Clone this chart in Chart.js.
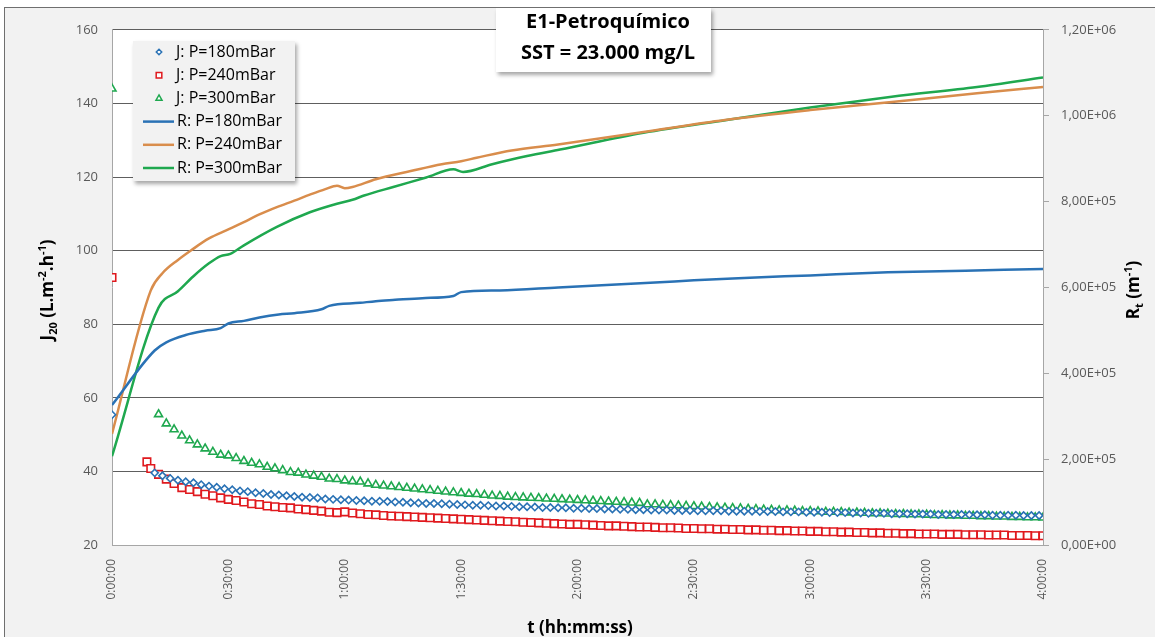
<!DOCTYPE html>
<html>
<head>
<meta charset="utf-8">
<script src="https://cdn.jsdelivr.net/npm/chart.js@4.4.1/dist/chart.umd.min.js"></script>
<style>
  body { margin: 0; background: #ffffff; overflow: hidden; }
  #wrap { position: absolute; left: 4px; top: 7px; width: 1151px; height: 630px;
          border-left: 1px solid #6f6f6f; border-top: 1px solid #6f6f6f; background: #f2f2f2; }
  canvas { display: block; }
</style>
</head>
<body>
<div id="wrap"><canvas id="myChart" width="1150" height="629"></canvas></div>
<script>
'use strict';

// time in minutes
const timesJ180 = [0, 11, 13, 15, 17, 19, 21, 23, 25, 27, 29, 31, 33, 35, 37, 39, 41, 43, 45, 47, 49, 51, 53, 55, 57, 59,
  61, 63, 65, 67, 69, 71, 73, 75, 77, 79, 81, 83, 85, 87, 89, 91, 93, 95, 97, 99, 101, 103, 105, 107, 109, 111, 113, 115, 117, 119,
  121, 123, 125, 127, 129, 131, 133, 135, 137, 139, 141, 143, 145, 147, 149, 151, 153, 155, 157, 159, 161, 163, 165, 167, 169, 171, 173, 175, 177, 179,
  181, 183, 185, 187, 189, 191, 193, 195, 197, 199, 201, 203, 205, 207, 209, 211, 213, 215, 217, 219, 221, 223, 225, 227, 229, 231, 233, 235, 237, 239];
const j180 = [55.4, 39.6, 38.8, 38.1, 37.6, 37.2, 36.9, 36.4, 36.0, 35.7, 35.3, 35.0, 34.7, 34.5, 34.2, 34.0, 33.7, 33.6, 33.4, 33.2, 33.0, 32.9, 32.8, 32.5, 32.4, 32.3,
  32.2, 32.1, 32.0, 31.9, 31.9, 31.8, 31.7, 31.6, 31.5, 31.4, 31.3, 31.3, 31.2, 31.1, 31.0, 30.9, 30.8, 30.8, 30.7, 30.6, 30.6, 30.5, 30.4, 30.4, 30.3, 30.2, 30.2, 30.1, 30.1, 30.0,
  30.0, 29.9, 29.9, 29.8, 29.8, 29.7, 29.7, 29.6, 29.6, 29.5, 29.5, 29.5, 29.4, 29.4, 29.4, 29.3, 29.3, 29.3, 29.3, 29.2, 29.2, 29.2, 29.2, 29.1, 29.1, 29.1, 29.0, 29.0, 29.0, 28.9,
  28.9, 28.9, 28.8, 28.8, 28.8, 28.7, 28.7, 28.6, 28.6, 28.6, 28.5, 28.5, 28.5, 28.4, 28.4, 28.4, 28.3, 28.3, 28.3, 28.3, 28.2, 28.2, 28.2, 28.1, 28.1, 28.1, 28.1, 28.0, 28.0, 28.0];

const timesJ240 = [0, 9, 10, 12, 14, 16, 18, 20, 22, 24, 26, 28, 30, 32, 34, 36, 38, 40, 42, 44, 46, 48, 50, 52, 54, 56, 58, 60,
  62, 64, 66, 68, 70, 72, 74, 76, 78, 80, 82, 84, 86, 88, 90, 92, 94, 96, 98, 100, 102, 104, 106, 108, 110, 112, 114, 116, 118, 120,
  122, 124, 126, 128, 130, 132, 134, 136, 138, 140, 142, 144, 146, 148, 150, 152, 154, 156, 158, 160, 162, 164, 166, 168, 170, 172, 174, 176, 178, 180,
  182, 184, 186, 188, 190, 192, 194, 196, 198, 200, 202, 204, 206, 208, 210, 212, 214, 216, 218, 220, 222, 224, 226, 228, 230, 232, 234, 236, 238, 240];
const j240 = [92.7, 42.6, 40.8, 39.2, 37.9, 36.7, 35.6, 35.1, 34.5, 33.8, 33.4, 32.8, 32.4, 32.1, 31.7, 31.2, 31.0, 30.6, 30.4, 30.2, 30.1, 29.8, 29.6, 29.4, 29.2, 28.9, 28.8, 29.0,
  28.7, 28.5, 28.3, 28.2, 28.0, 27.9, 27.8, 27.7, 27.6, 27.5, 27.4, 27.3, 27.2, 27.1, 27.0, 26.9, 26.8, 26.7, 26.6, 26.5, 26.4, 26.3, 26.2, 26.1, 26.0, 25.9, 25.8, 25.7, 25.6, 25.6,
  25.5, 25.4, 25.3, 25.2, 25.2, 25.1, 25.0, 24.9, 24.9, 24.8, 24.7, 24.7, 24.6, 24.5, 24.5, 24.4, 24.4, 24.3, 24.3, 24.2, 24.2, 24.1, 24.1, 24.0, 24.0, 23.9, 23.9, 23.8, 23.8, 23.7,
  23.7, 23.6, 23.6, 23.5, 23.5, 23.4, 23.4, 23.3, 23.3, 23.2, 23.2, 23.1, 23.1, 23.0, 23.0, 23.0, 22.9, 22.9, 22.9, 22.8, 22.8, 22.8, 22.7, 22.7, 22.7, 22.6, 22.6, 22.6, 22.5, 22.5];

const timesJ300 = [0, 12, 14, 16, 18, 20, 22, 24, 26, 28, 30, 32, 34, 36, 38, 40, 42, 44, 46, 48, 50, 52, 54, 56, 58, 60,
  62, 64, 66, 68, 70, 72, 74, 76, 78, 80, 82, 84, 86, 88, 90, 92, 94, 96, 98, 100, 102, 104, 106, 108, 110, 112, 114, 116, 118, 120,
  122, 124, 126, 128, 130, 132, 134, 136, 138, 140, 142, 144, 146, 148, 150, 152, 154, 156, 158, 160, 162, 164, 166, 168, 170, 172, 174, 176, 178, 180,
  182, 184, 186, 188, 190, 192, 194, 196, 198, 200, 202, 204, 206, 208, 210, 212, 214, 216, 218, 220, 222, 224, 226, 228, 230, 232, 234, 236, 238, 240];
const j300 = [144.0, 55.5, 53.0, 51.4, 49.7, 48.4, 47.3, 46.2, 45.3, 44.5, 44.3, 43.6, 42.8, 42.3, 41.9, 41.2, 40.8, 40.3, 39.8, 39.6, 39.1, 38.8, 38.5, 38.0, 37.9, 37.5,
  37.3, 37.2, 36.7, 36.3, 36.1, 35.9, 35.7, 35.5, 35.3, 35.1, 34.9, 34.7, 34.5, 34.3, 34.1, 33.9, 33.8, 33.6, 33.4, 33.3, 33.1, 33.0, 32.9, 32.8, 32.7, 32.6, 32.5, 32.4, 32.3, 32.2,
  32.1, 32.0, 31.9, 31.8, 31.7, 31.6, 31.5, 31.4, 31.0, 31.0, 30.9, 30.8, 30.7, 30.6, 30.5, 30.4, 30.3, 30.2, 30.1, 30.0, 29.9, 29.8, 29.7, 29.6, 29.5, 29.4, 29.4, 29.3, 29.2, 29.2,
  29.1, 29.0, 29.0, 28.9, 28.8, 28.8, 28.7, 28.6, 28.6, 28.5, 28.4, 28.4, 28.3, 28.3, 28.2, 28.1, 28.1, 28.0, 28.0, 27.9, 27.9, 27.8, 27.8, 27.7, 27.7, 27.6, 27.6, 27.5, 27.5, 27.4];

// resistance, m-1
const timesR180 = [0, 11, 14, 19, 24, 28, 30, 34, 38, 43, 47, 54, 56, 64, 68, 73, 80, 88, 90, 100, 115, 130, 145, 160, 180, 200, 220, 240];
const r180 = [3.26e5, 4.53e5, 4.72e5, 4.89e5, 4.99e5, 5.05e5, 5.16e5, 5.22e5, 5.30e5, 5.37e5, 5.40e5, 5.49e5, 5.57e5, 5.64e5, 5.68e5, 5.71e5,
  5.75e5, 5.80e5, 5.89e5, 5.93e5, 6.00e5, 6.07e5, 6.14e5, 6.21e5, 6.28e5, 6.35e5, 6.39e5, 6.43e5];

const timesR240 = [0, 10, 13, 17, 20.5, 25, 30, 34, 38, 42.5, 47, 51, 55, 58, 60, 62, 68, 77, 85, 90, 94, 103, 115, 137, 158, 180, 201, 223, 240];
const r240 = [2.59e5, 5.93e5, 6.33e5, 6.64e5, 6.87e5, 7.14e5, 7.35e5, 7.52e5, 7.70e5, 7.87e5, 8.02e5, 8.16e5, 8.29e5, 8.37e5, 8.31e5, 8.34e5,
  8.52e5, 8.71e5, 8.87e5, 8.94e5, 9.02e5, 9.19e5, 9.33e5, 9.62e5, 9.90e5, 1.013e6, 1.032e6, 1.052e6, 1.067e6];

const timesR300 = [0, 12, 17, 21, 25, 28, 30.5, 34, 42.5, 51, 58, 62, 65, 72.5, 81, 88, 90.5, 98, 107, 115.5, 137, 158.5, 180, 201, 223, 240];
const r300 = [2.07e5, 5.53e5, 5.91e5, 6.26e5, 6.56e5, 6.73e5, 6.78e5, 6.98e5, 7.41e5, 7.75e5, 7.95e5, 8.04e5, 8.14e5, 8.34e5, 8.56e5, 8.75e5,
  8.69e5, 8.87e5, 9.06e5, 9.21e5, 9.60e5, 9.90e5, 1.019e6, 1.044e6, 1.067e6, 1.089e6];

const seriesLabels = ['J: P=180mBar', 'J: P=240mBar', 'J: P=300mBar', 'R: P=180mBar', 'R: P=240mBar', 'R: P=300mBar'];
const boxLines = ['E1-Petroquímico', 'SST = 23.000 mg/L'];

const BLUE = '#2a72b5';
const RED = '#e0191e';
const GREEN = '#1fa84f';
const ORANGE = '#d98d4c';
const FONT = "'Open Sans', sans-serif";

function pairs(xs, ys) {
  const out = [];
  for (let i = 0; i < xs.length; i++) {
    out.push({ x: xs[i], y: ys[i] });
  }
  return out;
}

function fmtTime(v) {
  const h = Math.floor(v / 60);
  const m = Math.round(v % 60);
  return h + ':' + (m < 10 ? '0' : '') + m + ':00';
}

function fmtSci(v) {
  if (v === 0) return '0,00E+00';
  const e = Math.floor(Math.log10(v) + 1e-9);
  const m = v / Math.pow(10, e);
  return m.toFixed(2).replace('.', ',') + 'E+' + (e < 10 ? '0' : '') + e;
}

// draws a text made of pieces (normal / sub / sup) along a rotated baseline
function drawRich(ctx, parts, x, y, rot, align) {
  ctx.save();
  ctx.translate(x, y);
  ctx.rotate(rot);
  let total = 0;
  parts.forEach(p => {
    ctx.font = 'bold ' + p.size + 'px ' + FONT;
    total += ctx.measureText(p.t).width;
  });
  let cx = align === 'center' ? -total / 2 : 0;
  ctx.fillStyle = '#000';
  ctx.textBaseline = 'alphabetic';
  ctx.textAlign = 'left';
  parts.forEach(p => {
    ctx.font = 'bold ' + p.size + 'px ' + FONT;
    ctx.fillText(p.t, cx, p.dy || 0);
    cx += ctx.measureText(p.t).width;
  });
  ctx.restore();
}

function marker(ctx, style, x, y, r, color) {
  ctx.save();
  ctx.strokeStyle = color;
  ctx.fillStyle = '#fff';
  ctx.lineWidth = 1.5;
  ctx.beginPath();
  if (style === 'rectRot') {
    ctx.moveTo(x, y - r); ctx.lineTo(x + r, y); ctx.lineTo(x, y + r); ctx.lineTo(x - r, y);
  } else if (style === 'rect') {
    const s = r * Math.SQRT1_2;
    ctx.rect(x - s, y - s, 2 * s, 2 * s);
  } else {
    ctx.moveTo(x, y - r); ctx.lineTo(x + r * 0.866, y + r * 0.5); ctx.lineTo(x - r * 0.866, y + r * 0.5);
  }
  ctx.closePath();
  ctx.fill();
  ctx.stroke();
  ctx.restore();
}

const decorations = {
  id: 'decorations',
  beforeDraw(chart) {
    const a = chart.chartArea;
    const ctx = chart.ctx;
    ctx.save();
    ctx.fillStyle = '#ffffff';
    ctx.fillRect(a.left, a.top, a.right - a.left, a.bottom - a.top);
    ctx.restore();
  },
  afterDraw(chart) {
    const ctx = chart.ctx;

    // axis titles
    drawRich(ctx, [
      { t: 'J', size: 17 }, { t: '20', size: 11, dy: 4 }, { t: ' (L.m', size: 17 },
      { t: '-2', size: 11, dy: -7 }, { t: '.h', size: 17 }, { t: '-1', size: 11, dy: -7 }, { t: ')', size: 17 }
    ], 48, 282, -Math.PI / 2, 'center');
    drawRich(ctx, [
      { t: 'R', size: 17 }, { t: 't', size: 11, dy: 4 }, { t: ' (m', size: 17 }, { t: '-1', size: 11, dy: -7 }, { t: ')', size: 17 }
    ], 1134, 282, -Math.PI / 2, 'center');
    drawRich(ctx, [{ t: 't (hh:mm:ss)', size: 17 }], 575, 625, 0, 'center');

    // text box
    ctx.save();
    ctx.shadowColor = 'rgba(0,0,0,0.35)';
    ctx.shadowOffsetX = 2; ctx.shadowOffsetY = 3; ctx.shadowBlur = 4;
    ctx.fillStyle = '#fff';
    ctx.fillRect(491, 0, 215, 64);
    ctx.restore();
    ctx.fillStyle = '#000';
    ctx.font = 'bold 20px ' + FONT;
    ctx.textAlign = 'center';
    ctx.textBaseline = 'middle';
    ctx.fillText(boxLines[0], 603, 14);
    ctx.fillText(boxLines[1], 603, 45);

    // legend
    const lx = 128, ly = 33, lw = 162, lh = 140;
    ctx.save();
    ctx.shadowColor = 'rgba(0,0,0,0.35)';
    ctx.shadowOffsetX = 2; ctx.shadowOffsetY = 3; ctx.shadowBlur = 4;
    ctx.fillStyle = '#f2f2f2';
    ctx.fillRect(lx, ly, lw, lh);
    ctx.restore();
    ctx.font = '16px ' + FONT;
    ctx.textAlign = 'left';
    ctx.textBaseline = 'middle';
    chart.data.datasets.forEach((ds, i) => {
      const yy = ly + 11 + i * 23.2;
      if (ds.showLine === false) {
        marker(ctx, ds.pointStyle, 154, yy, ds.pointRadius * 0.75, ds.borderColor);
        ctx.fillStyle = '#000';
        ctx.fillText(ds.label, 171, yy);
      } else {
        ctx.strokeStyle = ds.borderColor;
        ctx.lineWidth = 2.5;
        ctx.beginPath();
        ctx.moveTo(138, yy); ctx.lineTo(169, yy);
        ctx.stroke();
        ctx.fillStyle = '#000';
        ctx.fillText(ds.label, 172, yy);
      }
    });
  }
};

function jSet(label, xs, ys, color, style, radius) {
  return {
    type: 'scatter', label: label, data: pairs(xs, ys), yAxisID: 'y', showLine: false,
    borderColor: color, backgroundColor: '#ffffff', pointStyle: style, pointRadius: radius,
    pointBorderWidth: 1.6, pointHoverRadius: radius
  };
}

function rSet(label, xs, ys, color) {
  return {
    type: 'line', label: label, data: pairs(xs, ys), yAxisID: 'y2', showLine: true,
    borderColor: color, backgroundColor: color, borderWidth: 2.5, pointRadius: 0,
    cubicInterpolationMode: 'monotone'
  };
}

const chartCanvas = document.getElementById('myChart');
new Chart(chartCanvas, {
  type: 'scatter',
  data: {
    datasets: [
      jSet(seriesLabels[0], timesJ180, j180, BLUE, 'rectRot', 3.6),
      jSet(seriesLabels[1], timesJ240, j240, RED, 'rect', 5.3),
      jSet(seriesLabels[2], timesJ300, j300, GREEN, 'triangle', 4.6),
      rSet(seriesLabels[3], timesR180, r180, BLUE),
      rSet(seriesLabels[4], timesR240, r240, ORANGE),
      rSet(seriesLabels[5], timesR300, r300, GREEN)
    ]
  },
  options: {
    responsive: false,
    animation: false,
    devicePixelRatio: 1,
    layout: { padding: { top: 16, left: 0, right: 0, bottom: 0 } },
    plugins: { legend: { display: false }, tooltip: { enabled: false } },
    scales: {
      x: {
        type: 'linear', min: 0, max: 240,
        afterFit(s) { s.height = 92; },
        grid: { display: false },
        border: { display: true, color: '#a6a6a6', width: 1 },
        ticks: {
          stepSize: 30, minRotation: 90, maxRotation: 90, padding: 6,
          color: '#595959', font: { family: FONT, size: 12 },
          callback: v => fmtTime(v)
        }
      },
      y: {
        position: 'left', min: 20, max: 160,
        afterFit(s) { s.width = 107; },
        grid: { color: '#5e5e5e', lineWidth: 1, drawTicks: false },
        border: { display: true, color: '#a6a6a6' },
        ticks: { stepSize: 20, padding: 14, color: '#595959', font: { family: FONT, size: 13 } }
      },
      y2: {
        position: 'right', min: 0, max: 1.2e6,
        afterFit(s) { s.width = 112; },
        grid: { drawOnChartArea: false, drawTicks: true, tickLength: 6, color: '#a6a6a6' },
        border: { display: true, color: '#a6a6a6' },
        ticks: { stepSize: 2e5, padding: 12, color: '#595959', font: { family: FONT, size: 13 },
          callback: v => fmtSci(v) }
      }
    }
  },
  plugins: [decorations]
});
</script>
</body>
</html>
